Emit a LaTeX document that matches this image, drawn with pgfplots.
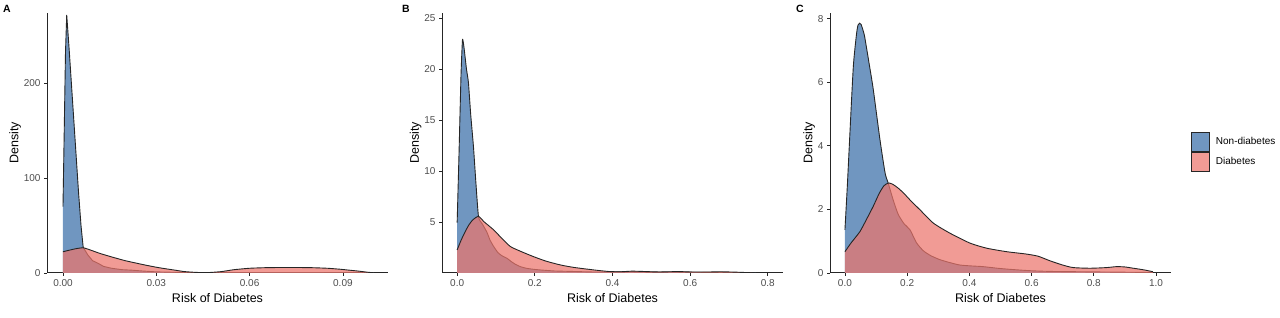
\documentclass[border=0pt]{standalone}
\usepackage{fontspec}
\setmainfont{Liberation Sans}
\usepackage{pgfplots}
\usepackage{pgfplotstable}
\pgfplotsset{compat=1.18}
\definecolor{nondia}{HTML}{7096C0}
\definecolor{dia}{HTML}{EC756C}
\definecolor{tickgray}{HTML}{4D4D4D}

% Panel A
\pgfplotstableread{
x y
0 70
0.0004 150
0.0008 232
0.0012 272
0.002 235
0.003 185
0.004 135
0.005 85
0.0058 50
0.0065 27
0.008 19
0.0095 13
0.0114 10
0.013 7
0.0156 5
0.019 3.5
0.022 3
0.026 2
0.03 1.2
0.035 0.8
0.04 0.5
0.05 0.3
0.06 0.3
0.07 0.3
0.08 0.3
0.09 0.2
0.1 0
}\Anon
\pgfplotstableread{
x y
0 22.4
0.002 24
0.004 25.5
0.0065 26.6
0.009 24
0.012 20.5
0.0156 17
0.02 13
0.0264 8.4
0.031 5.5
0.036 3
0.039 1.5
0.043 0.6
0.047 0.5
0.051 1.5
0.055 3.5
0.06 5
0.065 5.6
0.07 5.8
0.075 5.8
0.08 5.6
0.085 5
0.089 4
0.092 3
0.095 2
0.098 0.8
0.0997 0.3
}\Adia

% Panel B
\pgfplotstableread{
x y
0 4.95
0.005 12
0.01 19.5
0.0138 22.9
0.018 22
0.024 20
0.029 18.7
0.035 15.5
0.042 12.4
0.048 9
0.055 5.5
0.065 4.8
0.0766 4.0
0.085 3.2
0.094 2.6
0.105 2.0
0.115 1.7
0.128 1.45
0.14 1.1
0.15 0.85
0.163 0.62
0.18 0.45
0.2 0.35
0.214 0.3
0.25 0.2
0.3 0.15
0.35 0.1
0.4 0.1
0.45 0.12
0.5 0.08
0.55 0.1
0.6 0.08
0.65 0.06
0.7 0.05
0.75 0.02
0.77 0
}\Bnon
\pgfplotstableread{
x y
0 2.26
0.01 3.2
0.02 4.0
0.03 4.7
0.04 5.2
0.055 5.55
0.07 5.0
0.094 4.23
0.115 3.4
0.137 2.6
0.165 2.1
0.197 1.6
0.23 1.15
0.266 0.79
0.3 0.55
0.352 0.3
0.39 0.15
0.42 0.12
0.45 0.18
0.48 0.15
0.52 0.1
0.57 0.14
0.6 0.1
0.65 0.1
0.68 0.12
0.72 0.08
0.76 0.02
}\Bdia

% Panel C
\pgfplotstableread{
x y
0 1.36
0.008 2.8
0.016 4.4
0.027 6.5
0.037 7.5
0.042 7.8
0.047 7.86
0.052 7.82
0.062 7.5
0.07 7.05
0.08 6.45
0.091 5.78
0.1125 4.2
0.129 3.15
0.139 2.83
0.155 2.3
0.171 1.85
0.19 1.55
0.209 1.36
0.23 0.95
0.252 0.7
0.275 0.55
0.305 0.42
0.34 0.32
0.37 0.25
0.41 0.22
0.444 0.2
0.5 0.14
0.552 0.1
0.6 0.07
0.66 0.05
0.75 0.04
0.85 0.03
0.95 0.02
1.0 0.01
}\Cnon
\pgfplotstableread{
x y
0 0.67
0.02 0.95
0.048 1.3
0.07 1.7
0.091 2.1
0.11 2.5
0.125 2.74
0.139 2.83
0.152 2.8
0.17 2.68
0.19 2.5
0.209 2.3
0.245 1.95
0.284 1.57
0.338 1.25
0.402 0.94
0.456 0.78
0.52 0.67
0.58 0.6
0.62 0.53
0.66 0.38
0.7 0.25
0.734 0.17
0.788 0.15
0.84 0.17
0.873 0.2
0.9 0.19
0.927 0.15
0.96 0.1
0.99 0.04
}\Cdia

\pgfplotsset{
 panel/.style={
  scale only axis, width=341pt, height=260pt,
  anchor=south west,
  axis x line*=bottom, axis y line*=left,
  axis line style={line width=1pt, color=black!85, -},
  tick style={line width=0.8pt, color=black!85},
  tick align=outside, major tick length=3pt,
  ymin=0,
  ticklabel style={font=\fontsize{10}{12}\selectfont, text=tickgray},
  /pgf/number format/assume math mode=true,
  label style={font=\fontsize{12.5}{15}\selectfont},
  xlabel={Risk of Diabetes}, ylabel={Density},
  ylabel shift=-4pt,
 },
 nonfill/.style={fill=nondia, draw=none},
 diafill/.style={fill=dia, fill opacity=0.72, draw=none},
 outline/.style={line width=0.9pt, color=black!85, forget plot},
}

\begin{document}
\begin{tikzpicture}
\useasboundingbox (0,0) rectangle (1280pt,318pt);

\begin{axis}[panel, at={(47pt,45pt)},
  xmin=-0.00514, xmax=0.1045, ymax=274,
  xtick={0,0.03,0.06,0.09}, xticklabels={0.00,0.03,0.06,0.09},
  ytick={0,100,200}, yticklabels={0,100,200}]
\addplot[nonfill] table {\Anon} \closedcycle;
\addplot[outline] table {\Anon};
\addplot[diafill, smooth, tension=0.3] table {\Adia} \closedcycle;
\addplot[outline, smooth, tension=0.3] table {\Adia};
\end{axis}

\begin{axis}[panel, at={(442pt,45pt)},
  xmin=-0.039, xmax=0.839, ymax=25.5,
  xtick={0,0.2,0.4,0.6,0.8}, xticklabels={0.0,0.2,0.4,0.6,0.8},
  ytick={5,10,15,20,25}, yticklabels={5,10,15,20,25}]
\addplot[nonfill, smooth, tension=0.3] table {\Bnon} \closedcycle;
\addplot[outline, smooth, tension=0.3] table {\Bnon};
\addplot[diafill, smooth, tension=0.4] table {\Bdia} \closedcycle;
\addplot[outline, smooth, tension=0.4] table {\Bdia};
\end{axis}

\begin{axis}[panel, at={(830pt,45pt)},
  xmin=-0.048, xmax=1.048, ymax=8.18,
  xtick={0,0.2,0.4,0.6,0.8,1.0}, xticklabels={0.0,0.2,0.4,0.6,0.8,1.0},
  ytick={0,2,4,6,8}, yticklabels={0,2,4,6,8},
  legend image code/.code={\draw[#1, draw=black!85, line width=0.7pt] (0pt,-9.5pt) rectangle (18pt,9.5pt);},
  legend style={at={(1.0587,0.467)}, anchor=west, draw=none, fill=none,
    inner sep=0pt, row sep=0pt, font=\fontsize{10}{12}\selectfont,
    cells={anchor=west},
    /tikz/every odd column/.append style={column sep=4pt}},
  ]
\addplot[nonfill, smooth, tension=0.4] table {\Cnon} \closedcycle;
\addlegendentry{Non-diabetes}
\addplot[outline, smooth, tension=0.4] table {\Cnon};
\addplot[diafill, smooth, tension=0.4] table {\Cdia} \closedcycle;
\addlegendentry{Diabetes}
\addplot[outline, smooth, tension=0.4] table {\Cdia};
\end{axis}

\node[anchor=north west, inner sep=0pt, font=\bfseries\fontsize{10.5}{12}\selectfont] at (3pt,313pt) {A};
\node[anchor=north west, inner sep=0pt, font=\bfseries\fontsize{10.5}{12}\selectfont] at (402pt,313pt) {B};
\node[anchor=north west, inner sep=0pt, font=\bfseries\fontsize{10.5}{12}\selectfont] at (796pt,313pt) {C};
\end{tikzpicture}
\end{document}
